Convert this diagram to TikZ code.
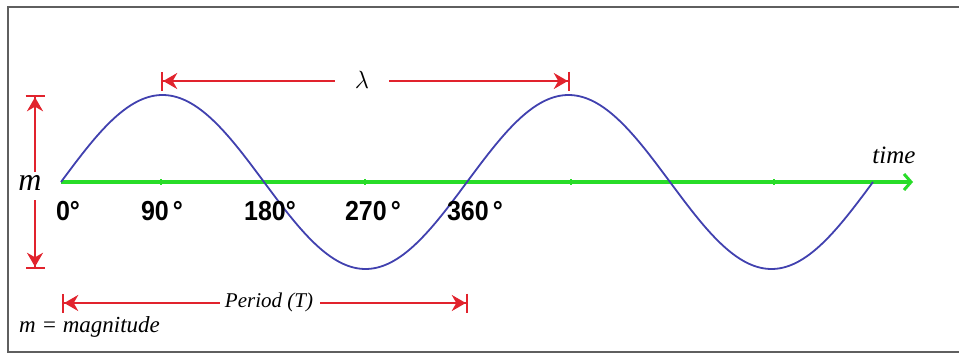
\documentclass[tikz,border=0pt]{standalone}
\usepackage{fontspec}
\setmainfont{Liberation Serif}
\newfontfamily\labfont{Liberation Sans}
\usetikzlibrary{arrows.meta}
\definecolor{wavecol}{RGB}{65,65,175}
\definecolor{axiscol}{RGB}{40,220,40}
\definecolor{dimcol}{RGB}{225,35,45}
\definecolor{framecol}{RGB}{95,95,95}
\begin{document}
\begin{tikzpicture}[x=1pt,y=-1pt,
  wave/.style={draw=wavecol, line width=1.8pt},
  axisline/.style={draw=axiscol, line width=3.5pt, -{Straight Barb[length=7pt,width=16pt,line width=3pt]}},
  ticks/.style={draw=axiscol, line width=1.5pt},
  dimline/.style={draw=dimcol, line width=2.4pt},
  dimstart/.style={dimline, {Bar[width=19pt,line width=2.2pt]Stealth[length=14pt,width=16pt,inset=4.5pt]}-},
  dimend/.style={dimline, -{Stealth[length=14pt,width=16pt,inset=4.5pt]Bar[width=19pt,line width=2.2pt]}},
  deglabel/.style={font=\labfont\bfseries\fontsize{25}{28}\selectfont, inner sep=0pt, yscale=1.1},
  itlabel/.style={font=\itshape\fontsize{21}{24}\selectfont, inner sep=0pt},
  framestyle/.style={draw=framecol, line width=1.5pt}
]
\useasboundingbox (0,0) rectangle (959,354);
% frame
\coordinate (frTR) at (960,7);
\coordinate (frTL) at (8,7);
\coordinate (frBL) at (8,352);
\coordinate (frBR) at (960,352);
\draw[framestyle] (frTR) -- (frTL) -- (frBL) -- (frBR);

% axis
\coordinate (ax0) at (61,182);
\coordinate (ax1) at (913,182);
\draw[axisline] (ax0) -- (ax1);
\foreach \tx/\tn in {161/t1,365/t2,571/t3,774/t4}{
  \coordinate (\tn a) at (\tx,179);
  \coordinate (\tn b) at (\tx,185);
  \draw[ticks] (\tn a) -- (\tn b);
}
\node[itlabel, font=\itshape\fontsize{25}{27}\selectfont] (time) at (894,155) {time};

% sine wave
\draw[wave] plot[domain=0:720, samples=181, smooth] ({61+\x*1.12778}, {182-87*sin(\x)});

% degree labels
\node[deglabel] (d0) at (68,211) {0°};
\node[deglabel] (d90) at (162,211) {90\,°};
\node[deglabel] (d180) at (270,211) {180°};
\node[deglabel] (d270) at (373,211) {270\,°};
\node[deglabel] (d360) at (475,211) {360\,°};

% lambda dimension
\node[inner sep=0pt, font=\fontsize{36}{38}\selectfont] (lam) at (362,80) {$\lambda$};
\coordinate (lamL) at (161,81);
\coordinate (lamLi) at (335,81);
\coordinate (lamRi) at (389,81);
\coordinate (lamR) at (570,81);
\draw[dimstart] (lamL) -- (lamLi);
\draw[dimend] (lamRi) -- (lamR);

% magnitude dimension
\node[itlabel, font=\itshape\fontsize{32}{34}\selectfont] (mlab) at (30,183) {m};
\coordinate (mT) at (35,95);
\coordinate (mTi) at (35,172);
\coordinate (mBi) at (35,200);
\coordinate (mB) at (35,269);
\draw[dimstart] (mT) -- (mTi);
\draw[dimend] (mBi) -- (mB);

% period dimension
\node[itlabel] (per) at (269,302) {Period (T)};
\coordinate (pL) at (62,303);
\coordinate (pLi) at (220,303);
\coordinate (pRi) at (320,303);
\coordinate (pR) at (468,303);
\draw[dimstart] (pL) -- (pLi);
\draw[dimend] (pRi) -- (pR);

% legend
\node[itlabel, font=\itshape\fontsize{23}{25}\selectfont, anchor=west] (legend) at (19,327) {m = magnitude};
\end{tikzpicture}
\end{document}
